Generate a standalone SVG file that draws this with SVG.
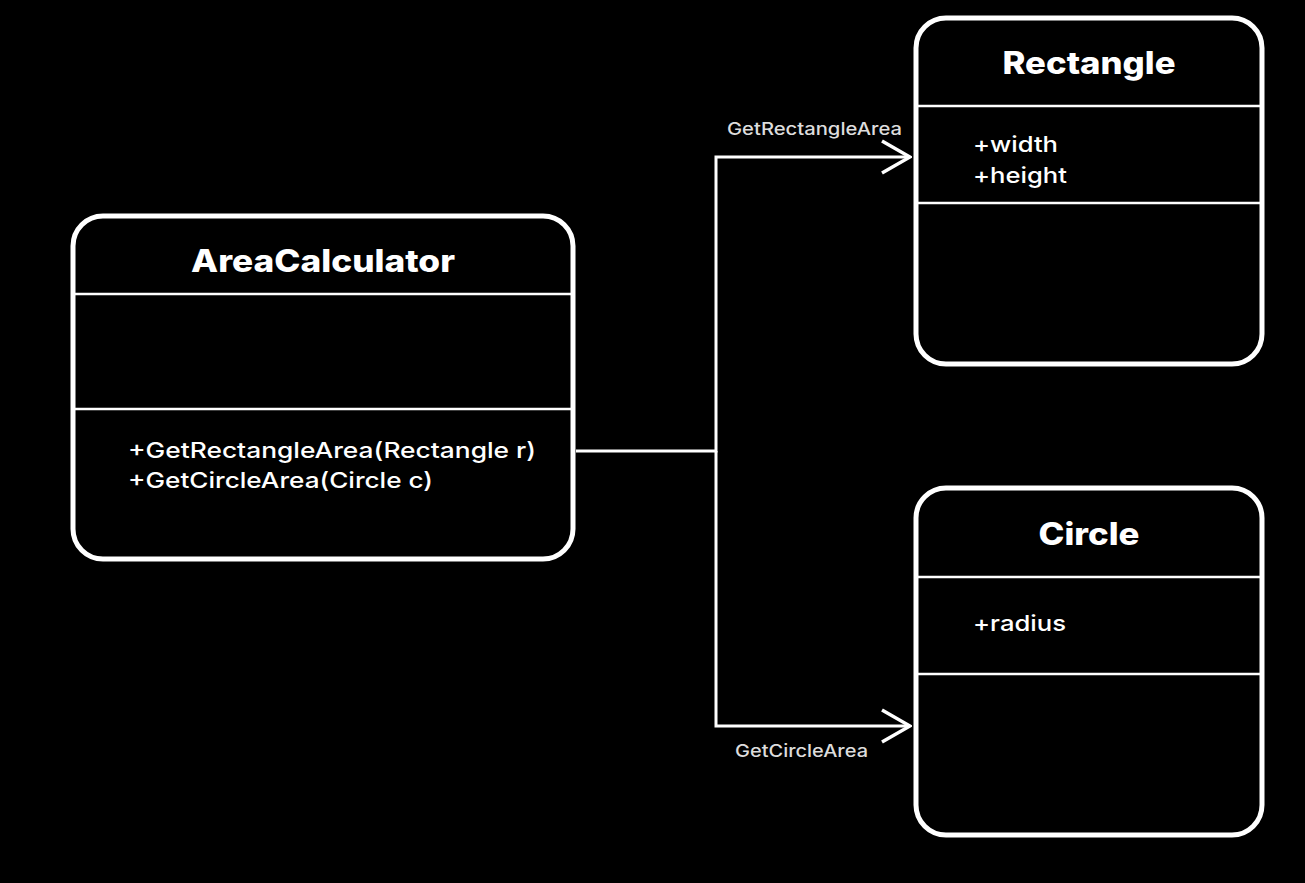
<svg xmlns="http://www.w3.org/2000/svg" width="1305" height="883" viewBox="0 0 1305 883">
<defs>
<style>
.box{fill:#000;stroke:#fff;stroke-width:5}
.div{stroke:#fff;stroke-width:2.5}
.title{font-family:Inter,"Noto Sans",sans-serif;font-weight:800;font-size:31px;fill:#fff;text-anchor:middle}
.item{font-family:Inter,"Noto Sans",sans-serif;font-weight:500;font-size:22px;fill:#fff}
.lbl{font-family:Inter,"Noto Sans",sans-serif;font-weight:500;font-size:17px;fill:#ddd}
.conn{fill:none;stroke:#fff;stroke-width:3}
</style>
<marker id="arr" viewBox="0 0 32 36" refX="30" refY="18" markerWidth="32" markerHeight="36" markerUnits="userSpaceOnUse" orient="auto">
<path d="M2,2 L30,18 L2,34" fill="none" stroke="#fff" stroke-width="3.5"/>
</marker>
</defs>
<rect width="1305" height="883" fill="#000"/>
<g id="connectors">
<path class="conn" d="M576,451 H716 V157 H910" marker-end="url(#arr)"/>
<path class="conn" d="M716,451 V726 H910" marker-end="url(#arr)"/>
<text class="lbl" x="727" y="135" textLength="175" lengthAdjust="spacingAndGlyphs">GetRectangleArea</text>
<text class="lbl" x="735" y="757" textLength="133" lengthAdjust="spacingAndGlyphs">GetCircleArea</text>
</g>
<g id="AreaCalculator">
<rect class="box" x="73" y="216" width="500" height="343" rx="30"/>
<line class="div" x1="75" y1="294" x2="571" y2="294"/>
<line class="div" x1="75" y1="409" x2="571" y2="409"/>
<text class="title" x="323" y="272" textLength="264" lengthAdjust="spacingAndGlyphs">AreaCalculator</text>
<text class="item" x="128" y="458" textLength="408" lengthAdjust="spacingAndGlyphs">+GetRectangleArea(Rectangle r)</text>
<text class="item" x="128" y="488" textLength="305" lengthAdjust="spacingAndGlyphs">+GetCircleArea(Circle c)</text>
</g>
<g id="Rectangle">
<rect class="box" x="916" y="18" width="346" height="346" rx="30"/>
<line class="div" x1="918" y1="106" x2="1260" y2="106"/>
<line class="div" x1="918" y1="203" x2="1260" y2="203"/>
<text class="title" x="1089" y="74" textLength="173" lengthAdjust="spacingAndGlyphs">Rectangle</text>
<text class="item" x="973" y="152" textLength="85" lengthAdjust="spacingAndGlyphs">+width</text>
<text class="item" x="973" y="183" textLength="94" lengthAdjust="spacingAndGlyphs">+height</text>
</g>
<g id="Circle">
<rect class="box" x="916" y="488" width="346" height="347" rx="30"/>
<line class="div" x1="918" y1="577" x2="1260" y2="577"/>
<line class="div" x1="918" y1="674" x2="1260" y2="674"/>
<text class="title" x="1089" y="545" textLength="101" lengthAdjust="spacingAndGlyphs">Circle</text>
<text class="item" x="973" y="631" textLength="93" lengthAdjust="spacingAndGlyphs">+radius</text>
</g>
</svg>
